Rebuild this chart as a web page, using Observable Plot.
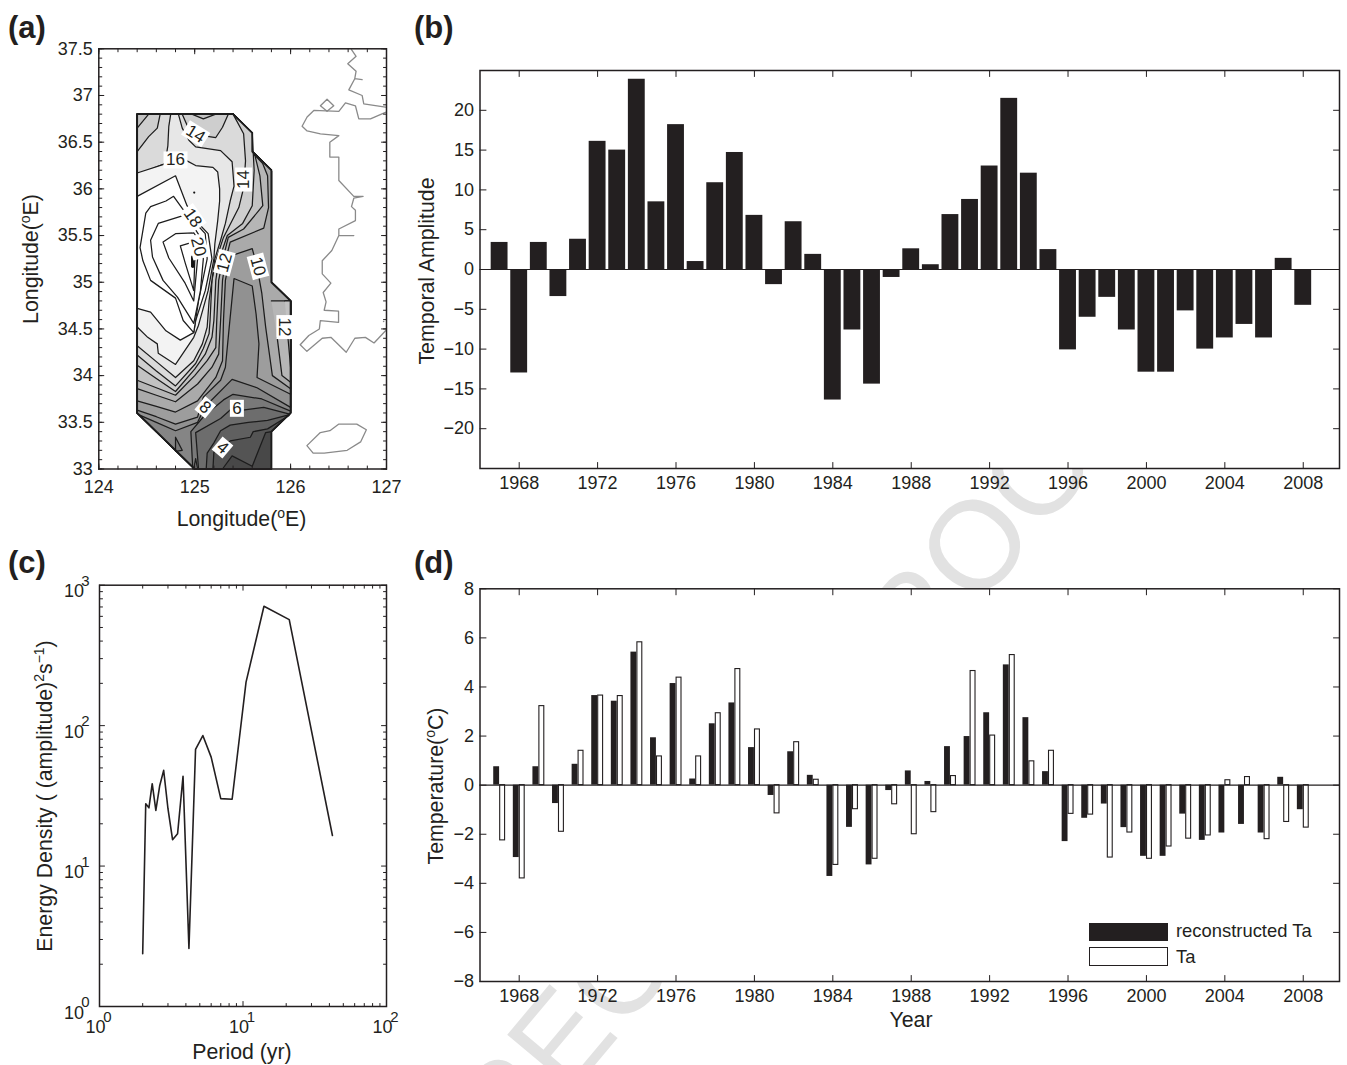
<!DOCTYPE html>
<html>
<head>
<meta charset="utf-8">
<script src="https://cdn.jsdelivr.net/npm/d3@7"></script>
<script src="https://cdn.jsdelivr.net/npm/@observablehq/plot@0.6"></script>
<style>
html,body{margin:0;padding:0;background:#fff}
#page{position:relative;width:1347px;height:1065px;overflow:hidden;font-family:"Liberation Sans",Arial,sans-serif;color:#231f20}
#page svg{position:absolute;overflow:visible}
.t{position:absolute;white-space:nowrap;font-size:21.3px;line-height:1;transform:translate(-50%,-50%)}
.t.v{transform:translate(-50%,-50%) rotate(-90deg)}
.t sup{font-size:14px;line-height:0;vertical-align:baseline;position:relative;top:-8px}
.p{position:absolute;font-weight:bold;font-size:31px;line-height:1;transform:translateY(-50%)}
.lg{position:absolute;box-sizing:border-box;border:1.5px solid #231f20}
.lt{position:absolute;font-size:18.4px;line-height:1;white-space:nowrap;transform:translateY(-50%)}
.wm{position:absolute;left:975px;top:545px;font-size:126px;line-height:1;white-space:pre;color:#e2e2e2;transform-origin:0 0;transform:rotate(-50deg) translate(-8.39em,-50%)}
</style>
</head>
<body>
<div id="page"><div class="wm">CORRECTED PROOF</div></div>
<script>
const INK = "#231f20";

// ---------- panel (a): contour map, [lon, lat] ----------
const domainEdge = [[124.4,36.8],[125.4,36.8],[125.6,36.6],[125.6,36.4],[125.8,36.2],[125.8,35],[126,34.8],[126,33.6],[125.8,33.4],[125.8,33],[125,33],[124.4,33.6]];
const northEast = [[126,34.8],[125.8,35],[125.8,36.2],[125.6,36.4],[125.6,36.6],[125.4,36.8],[124.4,36.8]];
const northTop = [[125.6,36.4],[125.6,36.6],[125.4,36.8],[124.4,36.8]];
const southWest = [[124.4,33.6],[125,33]];

const c3 = [[125.29,33],[125.39,33.14],[125.6,33.03],[125.74,33.39],[125.8,33.4],[126,33.6]];
const c4 = [[125.19,33],[125.2,33.18],[125.37,33.3],[125.58,33.34],[125.61,33.4],[125.76,33.43],[125.98,33.57],[126,33.6]];
const c5 = [[125.12,33],[125.13,33.17],[125.2,33.28],[125.27,33.41],[125.37,33.47],[125.56,33.5],[125.76,33.52],[125.98,33.58],[126,33.6]];
const c6 = [[125.04,33],[125.01,33.39],[125.27,33.54],[125.39,33.65],[125.5,33.63],[125.72,33.66],[125.98,33.59],[126,33.6]];
const c7 = [[124.98,33],[124.96,33.4],[125.1,33.57],[125.3,33.74],[125.4,33.8],[125.7,33.75],[126,33.62]];
const c8 = [[124.42,33.58],[124.6,33.5],[124.8,33.41],[125.03,33.5],[125.11,33.67],[125.39,33.96],[125.65,33.87],[126,33.66]];
const c9 = [[124.4,33.63],[124.6,33.56],[124.8,33.48],[125.03,33.555],[125.09,33.77],[125.27,33.95],[125.32,34.09],[125.36,34.52],[125.41,35.04],[125.6,34.96],[125.64,34.66],[125.67,34.34],[125.65,33.98],[126,33.8]];
const c10 = [[124.4,33.73],[124.6,33.67],[124.8,33.61],[125.03,33.73],[125.22,33.98],[125.29,34.16],[125.3,34.59],[125.32,35.02],[125.36,35.23],[125.37,35.28],[125.6,35.36],[125.65,35.17],[125.7,34.88],[125.74,34.52],[125.81,34],[126,33.86]];
const c11 = [[124.4,33.86],[124.6,33.79],[124.8,33.72],[125.03,33.91],[125.18,34.09],[125.25,34.23],[125.27,34.59],[125.29,35.02],[125.32,35.23],[125.37,35.43],[125.72,35.58],[125.77,35.8],[125.76,36.14],[125.71,36.27],[125.61,36.38]];
const c11east = [[125.8,34.8],[126,34.8],[126,33.93],[125.91,34],[125.86,34.41]];
const c12 = [[124.4,33.95],[124.6,33.87],[124.8,33.79],[125,34],[125.13,34.16],[125.22,34.3],[125.23,34.59],[125.25,35.02],[125.29,35.23],[125.35,35.48],[125.51,35.57],[125.67,35.77],[125.71,35.82],[125.68,36.14],[125.63,36.35]];
const c12east = [[125.94,34.8],[126,34.8],[126,34.09],[125.96,34.55]];
const c13 = [[124.4,34.11],[124.6,33.97],[124.8,33.83],[125,34.07],[125.11,34.23],[125.18,34.41],[125.2,34.59],[125.22,35.02],[125.25,35.23],[125.34,35.5],[125.5,35.63],[125.6,35.82],[125.62,36.2],[125.61,36.39],[125.6,36.6],[125.4,36.8],[125.22,36.8],[125.09,36.75],[124.97,36.8],[124.52,36.8],[124.4,36.65]];
const c14 = [[124.4,34.22],[124.6,34.05],[124.8,33.89],[125.01,34.13],[125.09,34.29],[125.15,34.45],[125.16,34.59],[125.18,35.02],[125.22,35.23],[125.3,35.48],[125.46,35.8],[125.51,36.01],[125.53,36.3],[125.51,36.59],[125.4,36.8],[125.35,36.8],[125.29,36.66],[125.22,36.55],[124.96,36.59],[124.87,36.8],[124.64,36.8],[124.61,36.65],[124.52,36.56],[124.4,36.4]];
const c15 = [[124.4,34.32],[124.6,34.15],[124.8,33.98],[124.99,34.16],[125.08,34.34],[125.13,34.52],[125.15,34.8],[125.21,35.25],[125.27,35.45],[125.32,35.63],[125.37,35.87],[125.41,36.03],[125.39,36.29],[125.27,36.41],[125.01,36.45],[124.94,36.52],[124.87,36.65],[124.83,36.8],[124.75,36.8],[124.73,36.67],[124.72,36.46],[124.69,36.27],[124.4,36.15]];
const c16 = [[124.4,34.52],[124.51,34.41],[124.61,34.34],[124.62,34.24],[124.8,34.12],[124.99,34.41],[125.04,34.54],[125.14,34.91],[125.2,35.25],[125.21,35.41],[125.24,35.66],[125.26,35.87],[125.26,36],[125.24,36.18],[125.19,36.23],[125.01,36.25],[124.92,36.3],[124.7,36.27],[124.4,36.17]];
const c17 = [[124.4,35.92],[124.8,36.14],[124.92,35.82],[125.03,35.64],[125.14,35.52],[125.18,35.25],[125.11,34.91],[125.01,34.59],[124.99,34.46],[124.85,34.38],[124.7,34.48],[124.54,34.68],[124.4,34.72]];
const c18 = [[124.96,35.67],[124.87,35.79],[124.78,35.92],[124.7,35.87],[124.54,35.81],[124.49,35.74],[124.43,35.37],[124.46,35.23],[124.54,35.02],[124.8,34.83],[124.88,34.59],[124.99,34.46],[125.04,34.8],[125.13,35.25],[125.11,35.52],[125.03,35.61],[124.96,35.67]];
const c19 = [[124.54,35.45],[124.62,35.63],[124.87,35.71],[124.96,35.64],[125.06,35.48],[125.09,35.25],[125.06,34.91],[124.99,34.56],[124.82,34.84],[124.67,35.02],[124.56,35.27],[124.54,35.45]];
const c20 = [[124.67,35.43],[124.8,35.52],[124.99,35.53],[125.04,35.45],[125.03,35.25],[124.99,34.8],[124.9,34.99],[124.73,35.26],[124.67,35.43]];
const c21 = [[124.85,35.39],[124.98,35.43],[125.01,35.39],[125,35.21],[124.99,34.91],[124.9,35.21],[124.85,35.39]];
const wedge = [[124.8,33.34],[124.87,33.2],[124.8,33.19],[124.8,33.34]];
const spike = [[124.99,33],[125.01,33.11],[125.03,33]];
const coldNotch = [[124.98,35.27],[124.98,35.17]];
const warmDot = [[124.995,35.96]];

const contours = [
  {id:"base",level:2,pts:domainEdge},
  {id:"c3",level:3,pts:[...c3,...northEast,...southWest]},
  {id:"c4",level:4,pts:[...c4,...northEast,...southWest]},
  {id:"c5",level:5,pts:[...c5,...northEast,...southWest]},
  {id:"c6",level:6,pts:[...c6,...northEast,...southWest]},
  {id:"spike",level:7,pts:spike},
  {id:"c7",level:7,pts:[...c7,...northEast,...southWest]},
  {id:"wedge",level:6,pts:wedge},
  {id:"c8",level:8,pts:[...c8,...northEast,southWest[0]]},
  {id:"c9",level:9,pts:[...c9,...northEast]},
  {id:"c10",level:10,pts:[...c10,...northEast]},
  {id:"c11",level:11,pts:[...c11,...northTop]},
  {id:"c11e",level:11,pts:c11east},
  {id:"c12",level:12,pts:[...c12,...northTop]},
  {id:"c12e",level:12,pts:c12east},
  {id:"c13",level:13,pts:c13},
  {id:"c14",level:14,pts:c14},
  {id:"c15",level:15,pts:c15},
  {id:"c16",level:16,pts:c16},
  {id:"c17",level:17,pts:c17},
  {id:"c18",level:18,pts:c18},
  {id:"c19",level:19,pts:c19},
  {id:"c20",level:20,pts:c20},
  {id:"c21",level:21,pts:c21}
];
const contourLabels = [
  {t:"14",lon:125.01,lat:36.59,r:32},
  {t:"16",lon:124.8,lat:36.31,r:0},
  {t:"14",lon:125.51,lat:36.1,r:-90},
  {t:"18",lon:124.98,lat:35.69,r:55},
  {t:"20",lon:125.04,lat:35.38,r:75},
  {t:"12",lon:125.31,lat:35.21,r:-75},
  {t:"10",lon:125.66,lat:35.17,r:75},
  {t:"12",lon:125.94,lat:34.52,r:90},
  {t:"8",lon:125.11,lat:33.66,r:40},
  {t:"6",lon:125.44,lat:33.65,r:0},
  {t:"4",lon:125.29,lat:33.23,r:40}
];
const coastMain = [[126.635,37.49],[126.683,37.42],[126.596,37.34],[126.683,37.26],[126.669,37.18],[126.746,37.17],[126.669,37.18],[126.607,37.06],[126.746,37],[126.763,36.91],[126.989,36.875]];
const coastWest = [[126.989,36.82],[126.833,36.75],[126.711,36.75],[126.676,36.89],[126.572,36.92],[126.503,36.83],[126.242,36.84],[126.172,36.77],[126.12,36.67],[126.172,36.62],[126.311,36.59],[126.503,36.57],[126.409,36.5],[126.409,36.34],[126.503,36.34],[126.503,36.09],[126.659,35.92],[126.756,35.92],[126.659,35.9],[126.635,35.81],[126.676,35.77],[126.676,35.66],[126.503,35.57],[126.503,35.5],[126.659,35.5],[126.503,35.5],[126.43,35.34],[126.33,35.23],[126.33,35.09],[126.42,34.99],[126.34,34.89],[126.37,34.79],[126.35,34.7],[126.5,34.69],[126.5,34.57],[126.31,34.59],[126.3,34.5],[126.19,34.43],[126.1,34.33],[126.17,34.26],[126.33,34.4],[126.42,34.41],[126.58,34.25],[126.67,34.4],[126.78,34.41],[126.87,34.35],[126.99,34.48]];
const coastIsle = [[126.311,36.89],[126.38,36.96],[126.45,36.89],[126.38,36.83],[126.311,36.89]];
const jeju = [[126.17,33.25],[126.31,33.39],[126.41,33.41],[126.5,33.48],[126.69,33.48],[126.79,33.42],[126.73,33.29],[126.59,33.2],[126.35,33.17],[126.235,33.17],[126.17,33.25]];
const coastNames = {coastMain,coastWest,coastIsle,jeju};
const rockDot = [[126.97,34.58]];

// ---------- panel (b) and (d): annual series ----------
const years = [1967,1968,1969,1970,1971,1972,1973,1974,1975,1976,1977,1978,1979,1980,1981,1982,1983,1984,1985,1986,1987,1988,1989,1990,1991,1992,1993,1994,1995,1996,1997,1998,1999,2000,2001,2002,2003,2004,2005,2006,2007,2008];
const amplitude = [3.4,-13,3.4,-3.4,3.8,16.1,15,23.9,8.5,18.2,1,10.9,14.7,6.8,-1.9,6,1.9,-16.4,-7.6,-14.4,-1,2.6,0.6,6.9,8.8,13,21.5,12.1,2.5,-10.1,-6,-3.5,-7.6,-12.9,-12.9,-5.2,-10,-8.6,-6.9,-8.6,1.4,-4.5];
const reconstructedTa = [0.75,-2.95,0.75,-0.75,0.85,3.65,3.42,5.42,1.93,4.14,0.25,2.5,3.35,1.53,-0.42,1.36,0.4,-3.72,-1.72,-3.25,-0.22,0.58,0.15,1.57,1.98,2.95,4.9,2.75,0.55,-2.3,-1.35,-0.77,-1.73,-2.9,-2.9,-1.18,-2.25,-1.95,-1.6,-1.95,0.32,-1];
const observedTa = [-2.25,-3.8,3.22,-1.9,1.4,3.65,3.63,5.82,1.17,4.38,1.17,2.93,4.73,2.27,-1.15,1.75,0.22,-3.25,-0.98,-3,-0.78,-2,-1.1,0.37,4.65,2.02,5.3,0.97,1.4,-1.17,-1.2,-2.95,-1.93,-3,-2.5,-2.18,-2.05,0.2,0.33,-2.2,-1.5,-1.73];
const yearTicks = [1968,1972,1976,1980,1984,1988,1992,1996,2000,2004,2008];
const amplitudeTicks = [-20,-15,-10,-5,0,5,10,15,20];
const temperatureTicks = [-8,-6,-4,-2,0,2,4,6,8];

// ---------- panel (c): spectrum ----------
const periods = [2,2.1,2.21,2.33,2.47,2.63,2.8,3,3.23,3.5,3.82,4.2,4.67,5.25,6,7,8.4,10.5,14,21,42];
const energy = [2.38,27.8,26,38.6,24.9,37.5,48,25.6,15.4,17,43.5,2.59,67.7,85,59.7,30.2,29.9,204,708,569,16.5];

// ---------- helpers ----------
const page = document.getElementById("page");
const tickShape = {draw(c,l){c.moveTo(0,0);c.lineTo(0,-l);}};
const boxShape = {draw(c,l){c.rect(-l/2,-8.5,l,17);}};
const SIDE = {
  bottom:{frameAnchor:"bottom",rotate:0,ch:"x"},
  top:{frameAnchor:"top",rotate:180,ch:"x"},
  left:{frameAnchor:"left",rotate:90,ch:"y"},
  right:{frameAnchor:"right",rotate:-90,ch:"y"}
};
function inTicks(values, sides, length){
  return sides.map(s=>{
    const S = SIDE[s];
    return Plot.vector(values,{[S.ch]:d=>d,frameAnchor:S.frameAnchor,rotate:S.rotate,length,anchor:"start",shape:tickShape,stroke:INK,strokeWidth:1});
  });
}
const labelBoxes = (rows,length)=>Plot.vector(rows,{x:"lon",y:"lat",rotate:"r",length,anchor:"start",shape:boxShape,fill:"#fff",stroke:"none"});
const minus = d => d<0 ? "\u2212"+Math.abs(d) : String(d);
const baseStyle = {fontFamily:"'Liberation Sans',Arial,sans-serif",color:INK,background:"transparent",overflow:"visible"};
function place(svg,left,top){svg.style.left=left+"px";svg.style.top=top+"px";page.appendChild(svg);}
function label(html,x,y,vertical){const d=document.createElement("div");d.className="t"+(vertical?" v":"");d.innerHTML=html;d.style.left=x+"px";d.style.top=y+"px";page.appendChild(d);}
function letter(s,x,y){const d=document.createElement("div");d.className="p";d.textContent=s;d.style.left=x+"px";d.style.top=y+"px";page.appendChild(d);}

// ---------- panel (a) ----------
const contourRows = contours.flatMap(c=>c.pts.map(p=>({id:c.id,level:c.level,lon:p[0],lat:p[1]})));
const coastRows = Object.entries(coastNames).flatMap(([id,pts])=>pts.map(p=>({id,lon:p[0],lat:p[1]})));
const plotA = Plot.plot({
  width:400,height:500,marginLeft:98.3,marginRight:14,marginTop:18.3,marginBottom:61.5,
  style:baseStyle,
  x:{domain:[124,127]},y:{domain:[33,37.5]},
  color:{type:"linear",domain:[2,17],range:["#484848","#ffffff"],clamp:true},
  marks:[
    Plot.line(coastRows,{x:"lon",y:"lat",z:"id",stroke:"#8a8a8a",strokeWidth:1.3}),
    Plot.dot(rockDot,{x:d=>d[0],y:d=>d[1],r:0.8,fill:"#8a8a8a"}),
    Plot.line(contourRows,{x:"lon",y:"lat",z:"id",fill:"level",stroke:"#1c1c1c",strokeWidth:1.25}),
    Plot.line(coldNotch,{x:d=>d[0],y:d=>d[1],stroke:"#111",strokeWidth:3.5}),
    Plot.dot(warmDot,{x:d=>d[0],y:d=>d[1],r:1.1,fill:"#111"}),
    Plot.line(domainEdge.concat([domainEdge[0]]),{x:d=>d[0],y:d=>d[1],stroke:"#1c1c1c",strokeWidth:1.8}),
    labelBoxes(contourLabels.filter(d=>d.t.length===2),24),
    labelBoxes(contourLabels.filter(d=>d.t.length===1),14),
    Plot.text(contourLabels,{x:"lon",y:"lat",text:"t",rotate:"r",fontSize:17,fill:INK}),
    ...inTicks(d3.range(124,127.01,0.2),["top","bottom"],3),
    ...inTicks(d3.range(33,37.51,0.1),["left","right"],3),
    ...inTicks([124,125,126,127],["top","bottom"],5),
    ...inTicks([33,33.5,34,34.5,35,35.5,36,36.5,37,37.5],["left","right"],5),
    Plot.frame({stroke:INK,strokeWidth:1.5}),
    Plot.axisX([124,125,126,127],{anchor:"bottom",tickSize:0,tickPadding:11,fontSize:18,label:null,tickFormat:d=>String(d)}),
    Plot.axisY([33,33.5,34,34.5,35,35.5,36,36.5,37,37.5],{anchor:"left",tickSize:0,tickPadding:6,fontSize:18,label:null,tickFormat:d=>String(d)})
  ]
});
place(plotA,0,30);

// ---------- panel (b) ----------
const plotB = Plot.plot({
  width:947,height:480,marginLeft:79.5,marginRight:8,marginTop:30,marginBottom:52,
  style:baseStyle,
  x:{domain:[1966,2009.85]},y:{domain:[-25,25]},
  marks:[
    Plot.frame({fill:"#fff",stroke:"none"}),
    Plot.rect(years,{x1:y=>y-0.43,x2:y=>y+0.43,y1:()=>0,y2:(y,i)=>amplitude[i],fill:"#231f20"}),
    Plot.ruleY([0],{stroke:INK,strokeWidth:1.2}),
    ...inTicks(yearTicks,["top","bottom"],6),
    ...inTicks(amplitudeTicks,["left","right"],6),
    Plot.frame({stroke:INK,strokeWidth:1.5}),
    Plot.axisX(yearTicks,{anchor:"bottom",tickSize:0,tickPadding:8,fontSize:18,label:null,tickFormat:d=>String(d)}),
    Plot.axisY(amplitudeTicks,{anchor:"left",tickSize:0,tickPadding:6,fontSize:18,label:null,tickFormat:minus})
  ]
});
place(plotB,400,40);

// ---------- panel (c) ----------
const decadesX = [1,10,100], decadesY = [1,10,100,1000];
const minorOf = ds => ds.slice(0,-1).flatMap(d=>[2,3,4,5,6,7,8,9].map(k=>k*d));
const numText = {textAnchor:"middle",lineAnchor:"middle",fill:INK};
const plotC = Plot.plot({
  width:400,height:505,marginLeft:99,marginRight:14,marginTop:24.7,marginBottom:59,
  style:baseStyle,
  x:{type:"log",domain:[1,100],axis:null},y:{type:"log",domain:[1,1000],axis:null},
  marks:[
    Plot.line(periods,{x:d=>d,y:(d,i)=>energy[i],stroke:"#231f20",strokeWidth:1.6}),
    ...inTicks(minorOf(decadesX),["top","bottom"],3),
    ...inTicks(minorOf(decadesY),["left","right"],3),
    ...inTicks(decadesX,["top","bottom"],5),
    ...inTicks(decadesY,["left","right"],5),
    Plot.frame({stroke:INK,strokeWidth:1.5}),
    Plot.text(decadesX,{x:d=>d,frameAnchor:"bottom",text:()=>"10",dx:-4,dy:21,fontSize:18,...numText}),
    Plot.text(decadesX,{x:d=>d,frameAnchor:"bottom",text:d=>String(Math.log10(d)),dx:8,dy:11,fontSize:15,...numText}),
    Plot.text(decadesY,{y:d=>d,frameAnchor:"left",text:()=>"10",dx:-25.5,dy:6.5,fontSize:18,...numText}),
    Plot.text(decadesY,{y:d=>d,frameAnchor:"left",text:d=>String(Math.log10(d)),dx:-14,dy:-4,fontSize:15,...numText})
  ]
});
place(plotC,0,560);

// ---------- panel (d) ----------
const plotD = Plot.plot({
  width:947,height:505,marginLeft:79.5,marginRight:8,marginTop:28.3,marginBottom:84,
  style:baseStyle,
  x:{domain:[1966,2009.85]},y:{domain:[-8,8]},
  marks:[
    Plot.frame({fill:"#fff",stroke:"none"}),
    Plot.rect(years,{x1:y=>y-0.3,x2:y=>y,y1:()=>0,y2:(y,i)=>reconstructedTa[i],fill:"#231f20"}),
    Plot.rect(years,{x1:y=>y+0.03,x2:y=>y+0.28,y1:()=>0,y2:(y,i)=>observedTa[i],fill:"#fff",stroke:"#231f20",strokeWidth:1.1}),
    Plot.ruleY([0],{stroke:INK,strokeWidth:1.2}),
    ...inTicks(yearTicks,["top","bottom"],6),
    ...inTicks(temperatureTicks,["left","right"],6),
    Plot.frame({stroke:INK,strokeWidth:1.5}),
    Plot.axisX(yearTicks,{anchor:"bottom",tickSize:0,tickPadding:8,fontSize:18,label:null,tickFormat:d=>String(d)}),
    Plot.axisY(temperatureTicks,{anchor:"left",tickSize:0,tickPadding:6,fontSize:18,label:null,tickFormat:minus})
  ]
});
place(plotD,400,560);

// ---------- text outside the frames ----------
letter("(a)",8,27); letter("(b)",414,27); letter("(c)",8,562); letter("(d)",414,562);
label("Longitude(<sup>o</sup>E)",241.5,520);
label("Longitude(<sup>o</sup>E)",32,259,true);
label("Temporal Amplitude",428,271,true);
label("Period (yr)",242,1053);
label("Energy Density ( (amplitude)<sup>2</sup>s<sup>\u22121</sup>)",46,796,true);
label("Temperature(<sup>o</sup>C)",437,786,true);
label("Year",911,1021);

// ---------- legend of panel (d) ----------
const legendItems = [{text:"reconstructed Ta",fill:"#231f20",y:922.5,ty:930.7},{text:"Ta",fill:"#fff",y:947,ty:957}];
for (const it of legendItems){
  const b=document.createElement("div");b.className="lg";
  b.style.cssText=`left:1089px;top:${it.y}px;width:79px;height:18.5px;background:${it.fill}`;page.appendChild(b);
  const t=document.createElement("div");t.className="lt";t.textContent=it.text;
  t.style.left="1176px";t.style.top=it.ty+"px";page.appendChild(t);
}
</script>
</body>
</html>
